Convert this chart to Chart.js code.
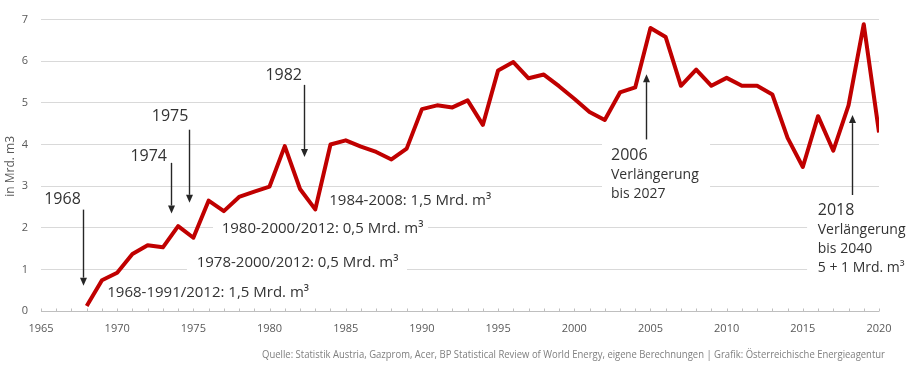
<!DOCTYPE html>
<html>
<head>
<meta charset="utf-8">
<script src="https://cdn.jsdelivr.net/npm/chart.js@4.4.1/dist/chart.umd.min.js"></script>
<style>
html,body{margin:0;padding:0;background:#fff;}
canvas{display:block;}
</style>
</head>
<body>
<canvas id="c" width="910" height="367"></canvas>
<script>
// ---- Data ----
const years = [1968,1969,1970,1971,1972,1973,1974,1975,1976,1977,1978,1979,
  1980,1981,1982,1983,1984,1985,1986,1987,1988,1989,
  1990,1991,1992,1993,1994,1995,1996,1997,1998,1999,
  2000,2001,2002,2003,2004,2005,2006,2007,2008,2009,
  2010,2011,2012,2013,2014,2015,2016,2017,2018,2019,2020];
const volumes = [0.12,0.74,0.92,1.37,1.58,1.53,2.04,1.76,2.65,2.40,2.74,2.87,
  2.99,3.96,2.93,2.44,4.00,4.10,3.95,3.82,3.64,3.90,
  4.85,4.94,4.89,5.06,4.47,5.78,5.98,5.59,5.68,5.40,
  5.10,4.78,4.59,5.25,5.37,6.80,6.58,5.41,5.80,5.41,
  5.60,5.41,5.41,5.20,4.16,3.46,4.68,3.85,4.94,6.89,4.29];
const xMin = 1965, xMax = 2020, xStep = 5;
const yMin = 0, yMax = 7, yStep = 1;
const yAxisTitle = 'in Mrd. m3';
const footerText = 'Quelle: Statistik Austria, Gazprom, Acer, BP Statistical Review of World Energy, eigene Berechnungen | Grafik: Österreichische Energieagentur';

// Annotation texts (anchored in data units: year, value)
const textLabels = [
  {text:'1968', x:1966.41, y:2.68, size:16, align:'center'},
  {text:'1974', x:1972.07, y:3.71, size:16, align:'center'},
  {text:'1975', x:1973.47, y:4.67, size:16, align:'center'},
  {text:'1982', x:1980.93, y:5.67, size:16, align:'center'},
  {text:'1968-1991/2012: 1,5 Mrd. m³', x:1969.35, y:0.445, size:15, align:'left'},
  {text:'1978-2000/2012: 0,5 Mrd. m³', x:1975.22, y:1.17, size:15, align:'left'},
  {text:'1980-2000/2012: 0,5 Mrd. m³', x:1976.86, y:1.98, size:15, align:'left'},
  {text:'1984-2008: 1,5 Mrd. m³', x:1983.92, y:2.66, size:15, align:'left'},
  {text:'2006', x:2002.41, y:3.746, size:16, align:'left'},
  {text:'Verlängerung', x:2002.41, y:3.278, size:14, align:'left'},
  {text:'bis 2027', x:2002.41, y:2.821, size:14, align:'left'},
  {text:'2018', x:2015.98, y:2.42, size:16, align:'left'},
  {text:'Verlängerung', x:2015.98, y:1.955, size:14, align:'left'},
  {text:'bis 2040', x:2015.98, y:1.49, size:14, align:'left'},
  {text:'5 + 1 Mrd. m³', x:2015.98, y:1.037, size:14, align:'left'}
];
// Arrows: x = year, from -> to (tip) in value units
const arrows = [
  {x:1967.74, from:2.435, to:0.609},
  {x:1973.51, from:3.559, to:2.342},
  {x:1974.69, from:4.355, to:2.599},
  {x:1982.26, from:5.432, to:3.70},
  {x:2004.69, from:4.121, to:5.69},
  {x:2018.25, from:2.786, to:4.706}
];
// White backgrounds of text boxes hiding gridlines
const masks = [
  {x0:1974.58, x1:1989.02, y0:1.2, y1:0.85},
  {x0:1976.29, x1:1990.40, y0:2.2, y1:1.8},
  {x0:2001.82, x1:2008.91, y0:4.1, y1:2.9},
  {x0:2015.28, x1:2025, y0:2.2, y1:0.8}
];

const FONT = "'Open Sans', sans-serif";
const TEXT = '#333333';

const annot = {
  id:'annot',
  beforeDatasetsDraw(chart){
    const {ctx, scales:{x, y}} = chart;
    ctx.save();
    ctx.fillStyle = '#ffffff';
    masks.forEach(m => {
      const l = x.getPixelForValue(m.x0), r = x.getPixelForValue(m.x1);
      const t = y.getPixelForValue(m.y0), b = y.getPixelForValue(m.y1);
      ctx.fillRect(l, t, r - l, b - t);
    });
    ctx.strokeStyle = '#bfbfbf';
    ctx.lineWidth = 1;
    const y0 = Math.round(y.getPixelForValue(0)) + 0.5;
    for (let yr = xMin; yr <= xMax; yr++) {
      const px = Math.round(x.getPixelForValue(yr)) + 0.5;
      ctx.beginPath(); ctx.moveTo(px, y0); ctx.lineTo(px, y0 - 3); ctx.stroke();
    }
    ctx.restore();
  },
  afterDatasetsDraw(chart){
    const {ctx, scales:{x, y}} = chart;
    ctx.save();
    ctx.fillStyle = TEXT;
    ctx.textBaseline = 'middle';
    textLabels.forEach(t => {
      ctx.font = t.size + 'px ' + FONT;
      ctx.textAlign = t.align;
      ctx.fillText(t.text, x.getPixelForValue(t.x), y.getPixelForValue(t.y));
    });
    ctx.strokeStyle = '#262626';
    ctx.fillStyle = '#262626';
    ctx.lineWidth = 1.4;
    arrows.forEach(a => {
      const px = Math.round(x.getPixelForValue(a.x)) + 0.5;
      const p1 = y.getPixelForValue(a.from), p2 = y.getPixelForValue(a.to);
      const dir = p2 > p1 ? 1 : -1;
      const head = 8, hw = 3.5;
      ctx.beginPath(); ctx.moveTo(px, p1); ctx.lineTo(px, p2 - dir * head); ctx.stroke();
      ctx.beginPath();
      ctx.moveTo(px, p2);
      ctx.lineTo(px - hw, p2 - dir * head);
      ctx.lineTo(px + hw, p2 - dir * head);
      ctx.closePath(); ctx.fill();
    });
    ctx.restore();
  },
  afterDraw(chart){
    const {ctx, chartArea} = chart;
    ctx.save();
    ctx.fillStyle = '#595959';
    ctx.font = '12px ' + FONT;
    ctx.textAlign = 'center';
    ctx.textBaseline = 'middle';
    ctx.translate(11, (chartArea.top + chartArea.bottom) / 2 + 1);
    ctx.rotate(-Math.PI / 2);
    ctx.fillText(yAxisTitle, 0, 0);
    ctx.restore();
    ctx.save();
    ctx.fillStyle = '#7f7f7f';
    ctx.font = '11px ' + FONT;
    ctx.textAlign = 'left';
    ctx.textBaseline = 'middle';
    ctx.fillText(footerText, 262, 355, 623);
    ctx.restore();
  }
};

function build(){
  new Chart(document.getElementById('c'), {
    type:'line',
    data:{
      labels: years,
      datasets:[{
        data: years.map((yr, i) => ({x: yr, y: volumes[i]})),
        borderColor:'#c00000',
        borderWidth:4,
        pointRadius:0,
        tension:0,
        fill:false,
        borderJoinStyle:'round',
        borderCapStyle:'butt'
      }]
    },
    options:{
      responsive:false,
      animation:false,
      layout:{padding:{top:12, right:31, left:0, bottom:0}},
      plugins:{legend:{display:false}, tooltip:{enabled:false}},
      scales:{
        x:{
          type:'linear', min:xMin, max:xMax,
          grid:{display:false},
          border:{display:false},
          ticks:{stepSize:xStep, color:'#595959', font:{family:FONT, size:11}, padding:3, maxRotation:0, autoSkip:false,
            callback:v => String(v)},
          afterFit(s){ s.height = 56; }
        },
        y:{
          min:yMin, max:yMax,
          grid:{color:c => c.tick && c.tick.value === 0 ? '#bfbfbf' : '#d9d9d9', drawTicks:false, lineWidth:1},
          border:{display:false},
          ticks:{stepSize:yStep, color:'#595959', font:{family:FONT, size:11}, padding:13},
          afterFit(s){ s.width = 41; }
        }
      }
    },
    plugins:[annot]
  });
}
if (document.fonts && document.fonts.load) {
  Promise.all([document.fonts.load("15px 'Open Sans'"), document.fonts.load("11px 'Open Sans'")])
    .then(build, build);
} else build();
</script>
</body>
</html>
